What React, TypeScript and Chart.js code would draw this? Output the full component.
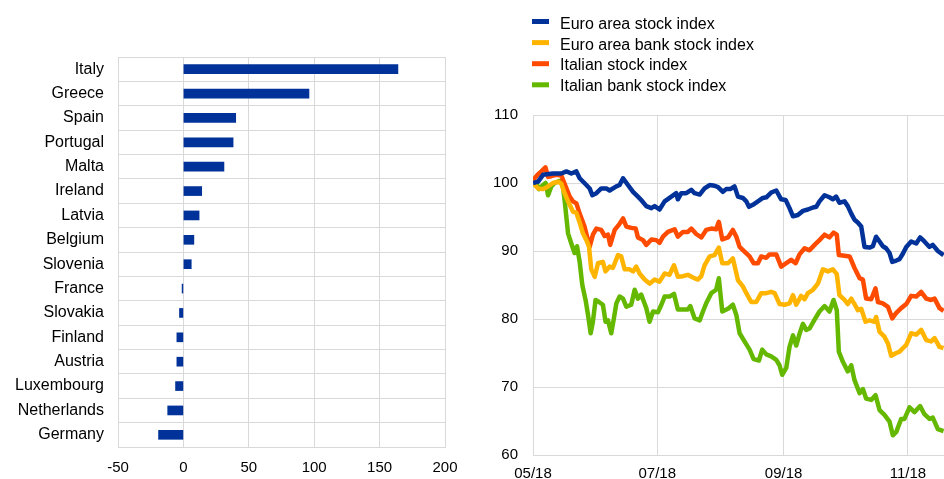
import React, { useEffect, useRef } from 'react';
import { Chart, registerables } from 'chart.js';

Chart.register(...registerables);

const FONT = "'Liberation Sans', Arial, Helvetica, sans-serif";

// Left panel: change by country
const countries = [
  'Italy', 'Greece', 'Spain', 'Portugal', 'Malta', 'Ireland', 'Latvia', 'Belgium',
  'Slovenia', 'France', 'Slovakia', 'Finland', 'Austria', 'Luxembourg', 'Netherlands', 'Germany',
];
const countryValues = [164, 96, 40, 38, 31, 14, 12, 8, 6, -1, -3, -5, -5, -6, -12, -19];
const barAxisMin = -50;
const barAxisMax = 200;
const barAxisStep = 50;

// Right panel: stock indices (x = calendar days since 1 May 2018)
const lineTickDays = [0, 61, 123, 184];
const lineTickLabels = ['05/18', '07/18', '09/18', '11/18'];

const seriesNames = [
  'Euro area stock index',
  'Euro area bank stock index',
  'Italian stock index',
  'Italian bank stock index',
];
const seriesColors = ['#003299', '#ffb400', '#ff4b00', '#65b800'];

const euroDays = [0, 2.5, 4.9, 9.8, 13.9, 16.4, 18.8, 21.3, 22.9, 26.2, 27.8, 29.1, 31.1, 33.5, 36.0, 37.6, 40.9, 42.5, 44.2, 46.6, 49.1, 51.5, 53.1, 55.6, 58.1, 59.7, 62.1, 64.6, 67.9, 70.3, 71.1, 72.8, 75.2, 77.7, 79.3, 81.8, 84.2, 86.7, 89.1, 90.8, 93.2, 94.8, 96.8, 98.9, 100.6, 103.0, 104.7, 106.0, 107.9, 110.4, 112.8, 114.5, 116.9, 119.4, 121.8, 124.0, 125.9, 127.6, 130.0, 132.5, 134.9, 137.4, 139.0, 140.6, 143.1, 145.5, 147.2, 148.8, 150.4, 152.9, 154.5, 156.2, 157.8, 159.4, 161.1, 162.7, 165.2, 166.8, 168.4, 170.1, 171.7, 173.3, 175.0, 176.3, 178.3, 179.9, 181.5, 183.2, 185.6, 188.1, 190.0, 192.1, 194.6, 196.2, 198.7, 201.5];
const euroValues = [100.0, 100.2, 101.2, 101.4, 101.4, 101.7, 101.4, 101.7, 100.7, 99.7, 99.2, 98.2, 98.5, 99.2, 99.2, 98.9, 99.5, 99.7, 100.7, 99.7, 98.7, 98.0, 97.5, 96.6, 96.3, 96.6, 96.1, 97.3, 98.0, 98.5, 97.6, 98.5, 98.5, 99.0, 98.5, 98.3, 99.2, 99.7, 99.6, 99.4, 98.7, 99.1, 99.1, 99.5, 98.0, 97.8, 97.3, 96.5, 96.8, 97.3, 97.8, 97.9, 98.6, 98.9, 97.6, 97.5, 96.3, 95.1, 95.3, 95.9, 96.1, 96.4, 96.5, 97.3, 98.2, 97.9, 97.6, 98.0, 97.1, 97.3, 96.6, 95.5, 94.6, 94.2, 93.6, 90.6, 90.5, 90.7, 92.1, 91.4, 90.7, 90.4, 89.7, 88.4, 88.6, 88.8, 89.6, 90.6, 91.4, 91.1, 92.0, 91.4, 90.6, 90.9, 90.0, 89.4];

const euroBankDays = [0, 2.5, 4.9, 7.4, 9.8, 12.3, 13.9, 15.5, 17.2, 19.6, 21.3, 22.9, 24.5, 26.2, 27.5, 28.6, 30.3, 31.9, 34.3, 35.6, 37.6, 39.2, 41.7, 43.3, 45.0, 47.4, 49.1, 50.7, 52.3, 54.8, 57.2, 59.7, 62.1, 64.6, 67.0, 69.2, 71.1, 73.6, 76.0, 78.5, 80.9, 82.6, 84.2, 86.7, 89.1, 91.2, 92.9, 95.7, 98.1, 100.6, 103.0, 104.7, 107.1, 109.6, 112.0, 114.5, 116.9, 118.6, 121.0, 123.5, 125.9, 127.6, 129.2, 131.6, 133.3, 134.9, 137.4, 139.8, 142.3, 144.7, 147.2, 149.1, 150.4, 152.9, 154.5, 156.2, 157.8, 159.4, 161.1, 163.2, 165.2, 167.6, 168.4, 170.1, 172.5, 174.2, 175.8, 178.3, 179.9, 181.5, 183.2, 185.6, 188.1, 190.5, 193.0, 195.4, 197.1, 199.5, 201.5];
const euroBankValues = [100.0, 99.2, 99.1, 99.5, 100.0, 100.2, 99.9, 98.5, 97.3, 95.8, 95.6, 94.2, 92.6, 91.6, 90.6, 87.3, 86.2, 88.2, 88.4, 87.0, 87.7, 87.5, 89.4, 89.2, 87.3, 87.3, 87.0, 87.7, 86.7, 85.8, 85.2, 85.8, 85.5, 86.7, 86.5, 87.9, 86.2, 86.3, 86.5, 86.1, 85.8, 86.3, 87.9, 89.2, 89.4, 90.5, 88.2, 88.2, 88.9, 85.7, 84.8, 83.8, 82.5, 82.5, 83.8, 83.8, 84.0, 83.8, 82.2, 82.1, 82.3, 83.5, 82.1, 83.4, 82.9, 83.8, 84.3, 85.2, 87.3, 87.0, 87.3, 86.6, 83.5, 82.8, 82.2, 83.0, 82.2, 81.3, 81.5, 79.6, 79.8, 79.6, 80.3, 78.1, 77.4, 76.4, 74.6, 75.0, 75.2, 75.7, 76.2, 77.9, 77.7, 78.4, 76.9, 76.7, 77.2, 75.9, 75.7];

const italyDays = [0, 2.5, 4.1, 6.1, 7.4, 9.0, 11.4, 13.9, 16.4, 18.0, 19.6, 21.3, 22.9, 25.3, 27.8, 29.4, 31.1, 33.5, 35.2, 36.8, 37.9, 40.1, 42.5, 44.2, 45.8, 48.2, 50.4, 51.5, 54.0, 55.6, 58.1, 60.5, 62.1, 63.8, 66.2, 69.5, 71.1, 73.6, 76.0, 77.7, 80.1, 82.6, 85.0, 87.5, 89.9, 91.2, 92.9, 95.7, 98.1, 99.8, 101.4, 103.8, 106.3, 108.3, 110.4, 112.0, 114.5, 116.1, 119.4, 121.8, 124.3, 126.7, 128.9, 130.8, 133.3, 135.7, 138.2, 140.6, 143.1, 145.5, 147.5, 149.1, 150.1, 152.9, 155.4, 157.8, 160.3, 161.9, 163.5, 166.0, 168.1, 169.3, 171.7, 174.2, 176.3, 178.3, 180.7, 183.2, 185.6, 188.1, 190.5, 193.0, 195.4, 197.1, 199.5, 201.5];
const italyValues = [100.4, 101.3, 101.7, 102.3, 100.9, 101.0, 101.2, 101.1, 99.2, 98.0, 97.3, 97.0, 95.5, 93.6, 90.6, 92.4, 93.3, 93.1, 92.2, 92.4, 90.9, 93.1, 94.0, 94.8, 93.6, 93.4, 93.3, 92.0, 91.6, 90.9, 91.7, 91.6, 91.2, 92.1, 92.8, 93.2, 92.1, 92.8, 92.8, 93.3, 92.5, 92.0, 93.1, 93.3, 93.2, 94.3, 91.7, 92.0, 93.1, 92.1, 90.6, 89.9, 89.2, 88.2, 88.2, 89.2, 89.0, 89.5, 89.5, 87.7, 88.2, 88.7, 88.2, 89.5, 90.4, 90.1, 90.9, 91.6, 92.4, 92.0, 92.7, 92.4, 89.4, 89.3, 89.2, 87.5, 86.0, 85.8, 83.0, 82.9, 84.5, 82.5, 82.3, 81.8, 80.1, 80.9, 81.6, 82.2, 83.4, 83.3, 84.0, 83.0, 82.8, 83.0, 81.6, 81.2];

const italyBankDays = [0, 1.6, 2.9, 4.9, 6.2, 7.4, 9.0, 10.6, 13.1, 14.4, 15.5, 17.2, 18.8, 20.4, 21.6, 22.9, 24.2, 25.8, 27.0, 28.3, 29.4, 30.7, 32.4, 34.3, 35.6, 36.8, 38.4, 39.7, 40.9, 42.5, 44.2, 45.8, 48.2, 49.9, 51.5, 53.1, 55.6, 57.2, 58.9, 61.3, 63.0, 64.6, 67.0, 69.2, 71.1, 73.6, 76.0, 77.2, 79.3, 81.8, 83.4, 85.0, 87.5, 89.9, 91.2, 92.9, 95.7, 98.1, 99.8, 101.4, 103.8, 106.3, 108.3, 110.9, 112.5, 114.5, 116.9, 119.4, 121.0, 122.3, 124.3, 125.9, 127.6, 129.2, 130.8, 132.5, 134.1, 135.7, 138.2, 140.6, 143.1, 145.5, 147.5, 149.1, 150.1, 152.1, 154.5, 156.2, 157.8, 160.3, 161.9, 163.5, 166.0, 168.1, 170.1, 172.5, 175.0, 176.6, 178.3, 180.7, 182.3, 184.8, 187.2, 190.0, 192.1, 194.6, 196.2, 198.7, 201.5];
const italyBankValues = [100.2, 100.0, 99.1, 99.7, 100.0, 98.2, 99.5, 100.0, 100.3, 100.2, 97.5, 92.6, 91.1, 89.7, 90.7, 88.4, 85.0, 82.8, 80.6, 77.9, 79.6, 82.8, 82.5, 82.1, 79.6, 79.8, 77.9, 80.1, 82.3, 83.3, 83.0, 81.8, 82.1, 84.3, 83.0, 83.6, 81.6, 79.6, 81.1, 81.0, 82.1, 83.3, 83.3, 83.7, 81.4, 81.4, 81.4, 81.9, 80.1, 79.8, 81.1, 82.3, 83.8, 84.3, 86.0, 81.1, 81.5, 82.1, 80.6, 77.9, 76.7, 75.5, 74.1, 73.9, 75.5, 74.8, 74.5, 74.0, 73.2, 71.8, 72.8, 75.9, 77.6, 76.1, 77.8, 79.3, 78.4, 78.6, 79.9, 81.1, 81.9, 81.1, 82.8, 81.3, 75.2, 73.7, 72.3, 73.2, 71.0, 69.1, 69.7, 68.3, 68.1, 68.8, 66.6, 65.9, 64.9, 62.9, 63.4, 65.3, 65.3, 67.0, 66.3, 67.2, 66.0, 65.3, 65.5, 63.8, 63.5];

const lineAxisMin = 60;
const lineAxisMax = 110;
const lineAxisStep = 10;
const lineDayMax = 240;

const seriesDays = [euroDays, euroBankDays, italyDays, italyBankDays];
const seriesValues = [euroValues, euroBankValues, italyValues, italyBankValues];

const GRID = '#d9d9d9';

const stackedLegend = {
  id: 'stackedLegend',
  afterDraw(chart: any) {
    const ctx = chart.ctx;
    ctx.save();
    chart.data.datasets.forEach((ds: any, i: number) => {
      ctx.fillStyle = ds.borderColor;
      ctx.fillRect(52, 19 + i * 21.1, 17, 5);
      ctx.fillStyle = '#000';
      ctx.font = `16px ${FONT}`;
      ctx.textBaseline = 'middle';
      ctx.textAlign = 'left';
      ctx.fillText(ds.label, 80, 24.6 + i * 20.5);
    });
    ctx.restore();
  },
};

export default function App() {
  const barRef = useRef<HTMLCanvasElement>(null);
  const lineRef = useRef<HTMLCanvasElement>(null);

  useEffect(() => {
    const bar = new Chart(barRef.current!, {
      type: 'bar',
      data: {
        labels: countries,
        datasets: [
          {
            data: countryValues,
            backgroundColor: '#003299',
            barThickness: 9,
          },
        ],
      },
      options: {
        indexAxis: 'y',
        responsive: false,
        animation: false,
        devicePixelRatio: 1,
        layout: { padding: { top: 57, right: 25, left: 0, bottom: 0 } },
        plugins: { legend: { display: false }, tooltip: { enabled: false } },
        scales: {
          x: {
            min: barAxisMin,
            max: barAxisMax,
            ticks: { stepSize: barAxisStep, color: '#000', font: { family: FONT, size: 15 }, padding: 12, maxRotation: 0 },
            grid: { color: GRID, drawTicks: false },
            border: { color: GRID },
            afterFit: (s: any) => { s.height = 32; },
          },
          y: {
            ticks: { color: '#000', font: { family: FONT, size: 16 }, padding: 14, autoSkip: false },
            grid: { color: GRID, drawTicks: false, offset: true },
            border: { color: GRID },
            afterFit: (s: any) => { s.width = 118; },
          },
        },
      },
    });

    const line = new Chart(lineRef.current!, {
      type: 'line',
      data: {
        datasets: seriesNames.map((name, i) => ({
          label: name,
          data: seriesDays[i].map((d, j) => ({ x: d, y: seriesValues[i][j] })),
          borderColor: seriesColors[i],
          backgroundColor: seriesColors[i],
          borderWidth: 4.5,
          pointRadius: 0,
          tension: 0,
          borderJoinStyle: 'round' as const,
          fill: false,
        })),
      },
      options: {
        responsive: false,
        animation: false,
        devicePixelRatio: 1,
        layout: { padding: { top: 115, right: 0, left: 0, bottom: 0 } },
        plugins: { legend: { display: false }, tooltip: { enabled: false } },
        scales: {
          x: {
            type: 'linear',
            min: 0,
            max: lineDayMax,
            afterBuildTicks: (s: any) => { s.ticks = lineTickDays.map((v) => ({ value: v })); },
            ticks: {
              color: '#000',
              font: { family: FONT, size: 15 },
              padding: 10,
              autoSkip: false,
              maxRotation: 0,
              callback: (v: any) => lineTickLabels[lineTickDays.indexOf(Number(v))] ?? '',
            },
            grid: { color: GRID, drawTicks: false },
            border: { color: GRID },
            afterFit: (s: any) => { s.height = 24; },
          },
          y: {
            min: lineAxisMin,
            max: lineAxisMax,
            ticks: { stepSize: lineAxisStep, color: '#000', font: { family: FONT, size: 15 }, padding: 15 },
            grid: { color: GRID, drawTicks: false },
            border: { color: GRID },
            afterFit: (s: any) => { s.width = 53; },
          },
        },
      },
      plugins: [stackedLegend],
    });

    return () => {
      bar.destroy();
      line.destroy();
    };
  }, []);

  return (
    <div
      style={{
        position: 'fixed',
        left: 0,
        top: 0,
        width: 944,
        height: 479,
        overflow: 'hidden',
        background: '#fff',
      }}
    >
      <canvas ref={barRef} width={470} height={479} style={{ position: 'absolute', left: 0, top: 0 }} />
      <canvas ref={lineRef} width={542} height={479} style={{ position: 'absolute', left: 480, top: 0 }} />
    </div>
  );
}
